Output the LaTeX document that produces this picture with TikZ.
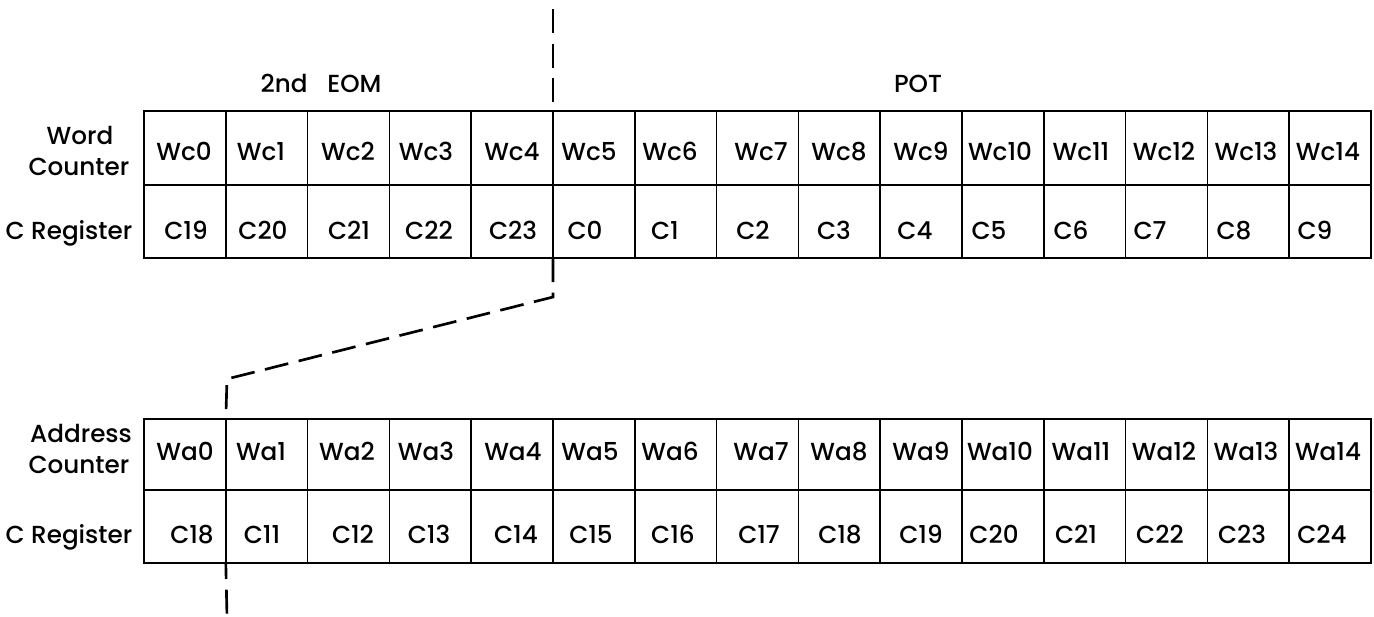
\documentclass[tikz,border=0pt]{standalone}
\usepackage{fontspec}
\setmainfont{Poppins}[UprightFont=* Medium]
\begin{document}
\begin{tikzpicture}[x=0.75pt,y=-0.75pt,
  cell/.style={draw, line width=1.2pt, minimum width=61.35pt, inner sep=0pt, outer sep=0pt, anchor=north west},
  txt/.style={font=\fontsize{18.5}{21}\selectfont, inner sep=0pt, anchor=base},
  sep/.style={line width=2pt, dash pattern=on 18pt off 8pt}]
\useasboundingbox[fill=white] (0,0) rectangle (1374,617);
% table cells
\foreach \i in {0,...,14} {
  \node[cell, minimum height=55.5pt] (tw\i) at ({144+81.8*\i},111) {};
  \node[cell, minimum height=54.75pt] (tc\i) at ({144+81.8*\i},185) {};
  \node[cell, minimum height=53.25pt] (bw\i) at ({144+81.8*\i},419) {};
  \node[cell, minimum height=54.75pt] (bc\i) at ({144+81.8*\i},490) {};
}
% top table texts
\foreach \x/\t [count=\k from 0] in {184/Wc0,261/Wc1,348/Wc2,426/Wc3,512/Wc4,589/Wc5,670/Wc6,761/Wc7,839/Wc8,921/Wc9,1000/Wc10,1081/Wc11,1164/Wc12,1246/Wc13,1328/Wc14}
  \node[txt] (twl\k) at (\x,160) {\t};
\foreach \x/\t [count=\k from 0] in {186/C19,263/C20,349/C21,429/C22,513/C23,585/C0,665/C1,753/C2,834/C3,915/C4,989/C5,1071/C6,1150/C7,1234/C8,1315/C9}
  \node[txt] (tcl\k) at (\x,239) {\t};
% bottom table texts
\foreach \x/\t [count=\k from 0] in {185/Wa0,261/Wa1,347/Wa2,426/Wa3,513/Wa4,590/Wa5,670/Wa6,761/Wa7,839/Wa8,921/Wa9,1000/Wa10,1081/Wa11,1164/Wa12,1246/Wa13,1328/Wa14}
  \node[txt] (bwl\k) at (\x,460) {\t};
\foreach \x/\t [count=\k from 0] in {192/C18,262/C11,353/C12,429/C13,516/C14,591/C15,673/C16,759/C17,840/C18,921/C19,994/C20,1076/C21,1160/C22,1242/C23,1322/C24}
  \node[txt] (bcl\k) at (\x,543) {\t};
% row labels
\node[txt] (lw1) at (80,144) {Word};
\node[txt] (lw2) at (79,175) {Counter};
\node[txt] (lc1) at (69,239) {C Register};
\node[txt] (la1) at (81,442) {Address};
\node[txt] (la2) at (79,473) {Counter};
\node[txt] (lc2) at (69,543) {C Register};
% headings
\node[txt] (eom) at (321,93) {2nd\hspace{0.8em}EOM};
\node[txt] (pot) at (918,93) {POT};
% dashed separator
\coordinate (dtop) at (553,9);
\coordinate (dk1) at (553,297);
\coordinate (dk2) at (227,379);
\coordinate (dbot) at (227,617);
\draw[sep] (dtop) -- (tw4.north east);
\draw[sep] (tc4.south east) -- (dk1) -- (dk2) -- (bw0.north east);
\draw[sep, dash phase=6pt] (bc0.south east) -- (dbot);
\end{tikzpicture}
\end{document}
